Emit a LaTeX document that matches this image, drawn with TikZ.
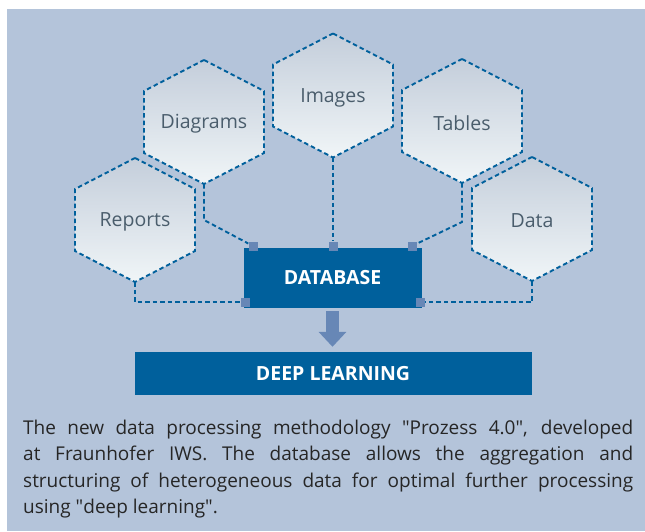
\documentclass[tikz,border=0pt]{standalone}
\usepackage{fontspec}
\setmainfont{Open Sans}
\usetikzlibrary{arrows.meta}
\definecolor{panel}{HTML}{B4C4DA}
\definecolor{fhblue}{HTML}{00609C}
\definecolor{knobc}{HTML}{6787B6}
\definecolor{hextop}{HTML}{C4CEDB}
\definecolor{hexbot}{HTML}{F0F5F7}
\definecolor{hextext}{HTML}{4A5D6C}
\definecolor{captext}{HTML}{262626}

\begin{document}
\begin{tikzpicture}[x=1pt,y=-1pt,
  link/.style={draw=fhblue,line width=1.9pt,dash pattern=on 4.5pt off 3pt},
  hexlabel/.style={text=hextext,font=\fontsize{19.5}{22}\selectfont},
  box/.style={fill=fhblue,text=white,font=\bfseries\fontsize{19.5}{22}\selectfont},
  knob/.style={fill=knobc,minimum size=9pt,inner sep=0pt}]
  \useasboundingbox (0,0) rectangle (645,531);
  \fill[white] (0,0) rectangle (645,531);
  \fill[panel] (7,9) rectangle (645,531);

  \foreach \n/\x/\y/\lbl in {rep/135/220/Reports,diag/204/122/Diagrams,img/333/95.5/Images,tab/462/121/Tables,dat/532/219/Data}{
    \draw[link,top color=hextop,bottom color=hexbot]
      (\x,\y-62) -- (\x+60,\y-31) -- (\x+60,\y+31) -- (\x,\y+62)
      -- (\x-60,\y+31) -- (\x-60,\y-31) -- cycle;
    \node[hexlabel] (\n) at (\x,\y+2) {\lbl};
    \coordinate (\n-b) at (\x,\y+62);
  }

  \node[box,minimum width=178pt,minimum height=60pt] (db) at (332.5,278) {DATABASE};
  \node[box,minimum width=397pt,minimum height=43pt] (dl) at (333,373.5) {DEEP LEARNING};

  \node[knob] (k1) at (253,246) {};
  \node[knob] (k2) at (333,246) {};
  \node[knob] (k3) at (412,246) {};
  \node[knob] (k4) at (245,302) {};
  \node[knob] (k5) at (420,302) {};

  \draw[link] (diag-b) -- ++(0,36) -- (k1);
  \draw[link] (img-b) -- (k2);
  \draw[link] (tab-b) -- ++(0,39) -- (k3);
  \draw[link] (rep-b) |- (k4);
  \draw[link] (dat-b) |- (k5);

  \draw[knobc,line width=13pt,-{Triangle[width=27pt,length=15pt]},shorten <=3pt,shorten >=5pt]
    (db.south) -- (db.south |- dl.north);

  \node[anchor=north west,text width=610pt,align=justify,inner sep=0pt,text=captext,
    font=\fontsize{19}{26.3}\selectfont] (cap) at (23,420)
    {The new data processing methodology \textquotedbl Prozess 4.0\textquotedbl, developed\linebreak
     at Fraunhofer IWS. The database allows the aggregation and\linebreak
     structuring of heterogeneous data for optimal further processing\linebreak
     using \textquotedbl deep learning\textquotedbl.};
\end{tikzpicture}
\end{document}
